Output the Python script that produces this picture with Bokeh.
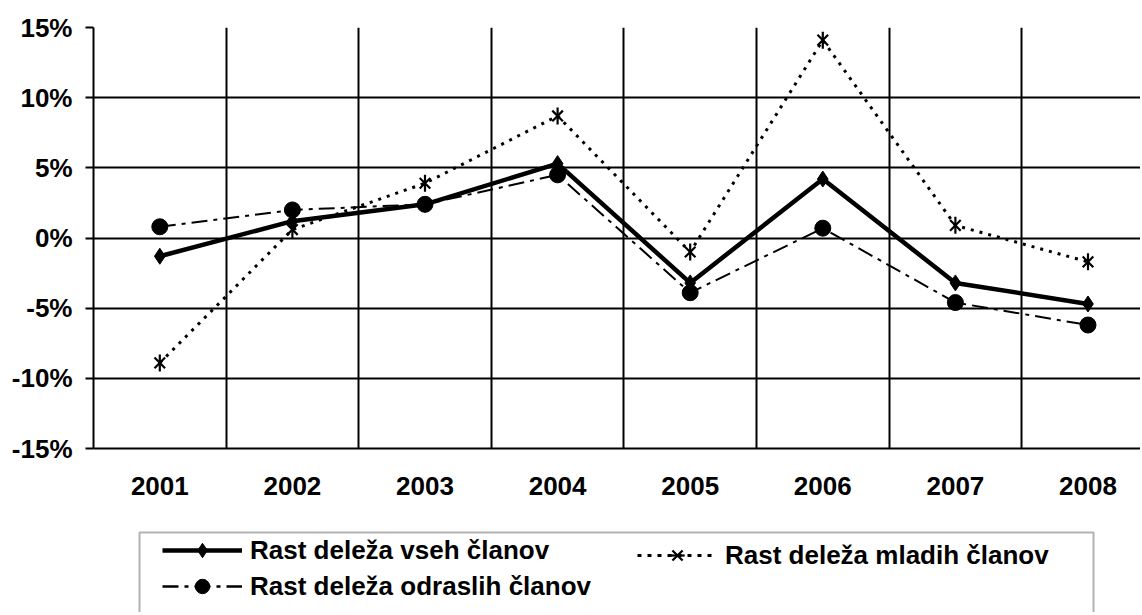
import math
from bokeh.plotting import figure
from bokeh.models import (Range1d, FixedTicker, PrintfTickFormatter, Legend, LegendItem,
                          BoxAnnotation)
from bokeh.layouts import column
from bokeh.embed import file_html
from bokeh.resources import INLINE

years = ["2001", "2002", "2003", "2004", "2005", "2006", "2007", "2008"]
vseh = [-1.3, 1.2, 2.4, 5.3, -3.2, 4.2, -3.2, -4.7]
mladih = [-8.9, 0.6, 3.9, 8.7, -1.0, 14.1, 0.9, -1.7]
odraslih = [0.8, 2.0, 2.4, 4.5, -3.9, 0.7, -4.6, -6.2]
y_ticks = [-15, -10, -5, 0, 5, 10, 15]
labels = ["Rast deleža vseh članov", "Rast deleža mladih članov", "Rast deleža odraslih članov"]

FONT = "Liberation Sans"
FS = "26px"
xs = [i + 0.5 for i in range(len(years))]

W = 1140
LEFT = 93
p = figure(width=W, height=508, output_backend="svg", toolbar_location=None,
           x_range=Range1d(0, 7.896), y_range=Range1d(-15, 15),
           min_border_left=LEFT, min_border_right=0, min_border_top=27, min_border_bottom=60)
p.outline_line_color = None
p.background_fill_color = "white"
p.border_fill_color = "white"

# axes
p.yaxis.ticker = FixedTicker(ticks=y_ticks)
p.yaxis.formatter = PrintfTickFormatter(format="%d%%")
p.yaxis.major_tick_out = 8
p.yaxis.major_tick_in = 0
p.yaxis.minor_tick_line_color = None
p.yaxis.major_label_standoff = 13
p.xaxis.ticker = FixedTicker(ticks=xs)
p.xaxis.major_label_overrides = {x: y for x, y in zip(xs, years)}
p.xaxis.major_tick_line_color = None
p.xaxis.minor_tick_line_color = None
p.xaxis.major_label_standoff = 22
for ax in (p.xaxis[0], p.yaxis[0]):
    ax.axis_line_width = 2
    ax.axis_line_color = "black"
    ax.major_tick_line_width = 2
    ax.major_label_text_font = FONT
    ax.major_label_text_font_style = "bold"
    ax.major_label_text_font_size = FS
    ax.major_label_text_color = "black"

p.ygrid.ticker = FixedTicker(ticks=y_ticks)
p.xgrid.ticker = FixedTicker(ticks=list(range(0, 9)))
for g in (p.xgrid[0], p.ygrid[0]):
    g.grid_line_color = "black"
    g.grid_line_width = 2

# series
p.line(xs, mladih, line_color="black", line_width=3, line_dash="3 6")
p.scatter(xs, mladih, marker="x", size=15, line_color="black", line_width=2.2)
p.scatter(xs, mladih, marker="dash", size=17, angle=math.pi / 2, line_color="black", line_width=2.2)
p.line(xs, odraslih, line_color="black", line_width=2, line_dash="16 6 4 6")
p.scatter(xs, odraslih, marker="circle", size=16, fill_color="black", line_color="black")
p.line(xs, vseh, line_color="black", line_width=4.5)
p.scatter(xs, vseh, marker="diamond", size=16, fill_color="black", line_color="black")

# legend figure (its frame is aligned with the main frame: x from LEFT to W)
LH = 104
p2 = figure(width=W, height=LH, output_backend="svg", toolbar_location=None,
            x_range=Range1d(LEFT, W), y_range=Range1d(0, LH),
            x_axis_type=None, y_axis_type=None, min_border=0,
            min_border_left=LEFT, min_border_right=0)
p2.outline_line_color = None
p2.grid.visible = False

nan = [math.nan]
l1 = p2.line(nan, nan, line_color="black", line_width=4.5)
s1 = p2.scatter(nan, nan, marker="diamond", fill_color="black", line_color="black")
l2 = p2.line(nan, nan, line_color="black", line_width=3, line_dash="4 6")
s2 = p2.scatter(nan, nan, marker="x", line_color="black", line_width=2.2)
s2b = p2.scatter(nan, nan, marker="dash", angle=math.pi / 2, line_color="black", line_width=2.2)
l3 = p2.line(nan, nan, line_color="black", line_width=2.5, line_dash="16 6 4 6")
s3 = p2.scatter(nan, nan, marker="circle", fill_color="black", line_color="black")

box = BoxAnnotation(left=139, right=1093, top=LH - 24, bottom=-30,
                    fill_alpha=0, line_color="black", line_width=2)
p2.add_layout(box)

def mk_legend(items, loc):
    return Legend(items=items, location=loc, orientation="vertical", padding=0, margin=0,
                  spacing=-5, border_line_color=None, background_fill_alpha=0,
                  glyph_width=80, glyph_height=36, label_standoff=8,
                  label_text_font=FONT, label_text_font_style="bold",
                  label_text_font_size=FS, label_text_color="black")

legA = mk_legend([LegendItem(label=labels[0], renderers=[l1, s1]),
                  LegendItem(label=labels[2], renderers=[l3, s3])], (162 - LEFT, 8))
legB = mk_legend([LegendItem(label=labels[1], renderers=[l2, s2, s2b])], (637 - LEFT, 39))
p2.add_layout(legA)
p2.add_layout(legB)

layout = column(p, p2)
open("out.html", "w").write(file_html(layout, INLINE))
